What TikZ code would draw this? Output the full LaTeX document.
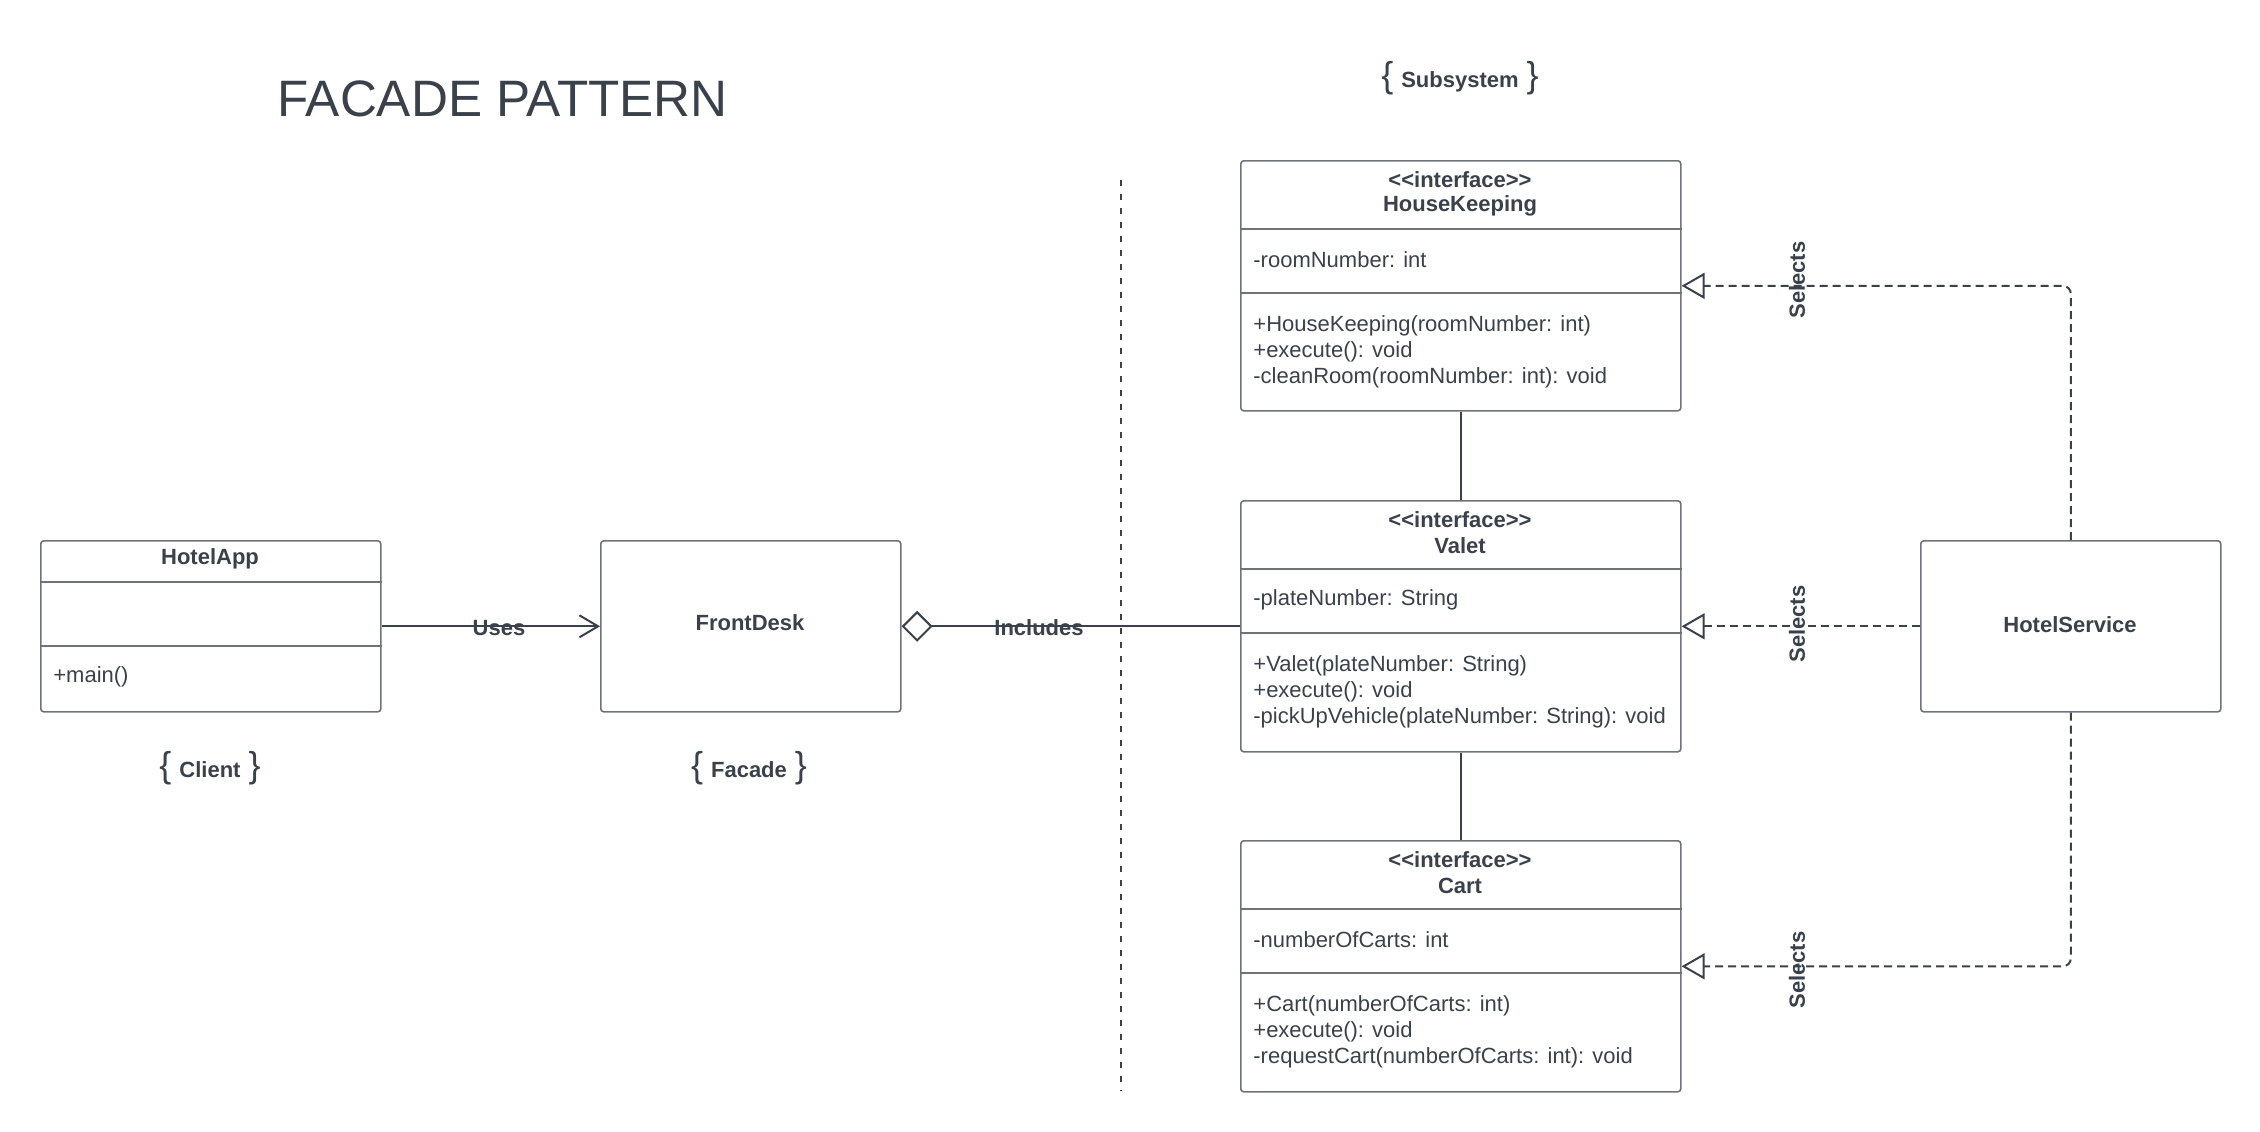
\documentclass[tikz,border=0pt]{standalone}
\usepackage{fontspec}
\setmainfont{Liberation Sans}
\usetikzlibrary{arrows.meta}
\definecolor{ink}{HTML}{3A414A}
\definecolor{boxgray}{HTML}{6E7379}
\newcommand{\bracefont}{\fontsize{18}{18}\selectfont\mdseries}
\newcommand{\bracelabel}[1]{{\bracefont\{}\hspace{4pt}\textbf{#1}\hspace{4pt}{\bracefont\}}}
\tikzset{
  box/.style={draw=boxgray, line width=0.8pt, rounded corners=1.5pt, inner sep=0pt, anchor=north west},
  divline/.style={draw=boxgray, line width=0.8pt},
  conn/.style={draw=ink, line width=1pt},
  selline/.style={conn, dash pattern=on 4pt off 2.5pt, rounded corners=4pt},
  sepline/.style={draw=ink, line width=1pt, dash pattern=on 3pt off 4pt},
  txt/.style={text=ink, font=\fontsize{11}{13}\selectfont, inner sep=0pt},
  boldtxt/.style={text=ink, font=\fontsize{11}{13}\selectfont\bfseries, inner sep=0pt},
  opentri/.style={-{Triangle[open, length=11.5pt, width=13pt, line width=1pt]}},
}
\begin{document}
\begin{tikzpicture}[x=0.5pt,y=-0.5pt]
\useasboundingbox (0,0) rectangle (2260,1131);

% title and stereotype labels
\node[txt, font=\fontsize{25.6}{29}\selectfont, anchor=west] (title) at (277,99) {FACADE PATTERN};
\node[txt] (subsys) at (1460,78) {\bracelabel{Subsystem}};
\node[txt] (clientlbl) at (210,768) {\bracelabel{Client}};
\node[txt] (facadelbl) at (749,768) {\bracelabel{Facade}};

% separator
\coordinate (septop) at (1121,180);
\coordinate (sepbot) at (1121,1091);
\draw[sepline] (septop) -- (sepbot);

% HotelApp
\node[box, minimum width=170pt, minimum height=85.5pt] (ha) at (40,540) {};
\draw[divline] (ha.west |- 0,582) -- (ha.east |- 0,582);
\draw[divline] (ha.west |- 0,646) -- (ha.east |- 0,646);
\node[boldtxt] (hatitle) at (210,559) {HotelApp};
\node[txt, anchor=west] (hamain) at (53,677) {+main()};

% FrontDesk
\node[box, minimum width=150pt, minimum height=85.5pt] (fd) at (600,540) {};
\node[boldtxt] (fdtitle) at (750,623) {FrontDesk};

% HotelService
\node[box, minimum width=150pt, minimum height=85.5pt] (hs) at (1920,540) {};
\node[boldtxt] (hstitle) at (2070,625) {HotelService};

% HouseKeeping
\node[box, minimum width=220pt, minimum height=125pt] (hk) at (1240,160) {};
\draw[divline] (hk.west |- 0,229) -- (hk.east |- 0,229);
\draw[divline] (hk.west |- 0,293) -- (hk.east |- 0,293);
\node[boldtxt] (hkst) at (1460,180) {<{}<interface>{}>};
\node[boldtxt] (hkname) at (1460,206) {HouseKeeping};
\node[txt, anchor=west] (hkattr) at (1253,260) {-roomNumber: int};
\node[txt, anchor=west, align=left] (hkops) at (1253,352) {+HouseKeeping(roomNumber: int)\\+execute(): void\\-cleanRoom(roomNumber: int): void};

% Valet
\node[box, minimum width=220pt, minimum height=125.5pt] (va) at (1240,500) {};
\draw[divline] (va.west |- 0,569) -- (va.east |- 0,569);
\draw[divline] (va.west |- 0,633) -- (va.east |- 0,633);
\node[boldtxt] (vast) at (1460,520) {<{}<interface>{}>};
\node[boldtxt] (vaname) at (1460,546) {Valet};
\node[txt, anchor=west] (vaattr) at (1253,600) {-plateNumber: String};
\node[txt, anchor=west, align=left] (vaops) at (1253,692) {+Valet(plateNumber: String)\\+execute(): void\\-pickUpVehicle(plateNumber: String): void};

% Cart
\node[box, minimum width=220pt, minimum height=125.5pt] (ca) at (1240,840) {};
\draw[divline] (ca.west |- 0,909) -- (ca.east |- 0,909);
\draw[divline] (ca.west |- 0,973) -- (ca.east |- 0,973);
\node[boldtxt] (cast) at (1460,860) {<{}<interface>{}>};
\node[boldtxt] (caname) at (1460,886) {Cart};
\node[txt, anchor=west] (caattr) at (1253,940) {-numberOfCarts: int};
\node[txt, anchor=west, align=left] (caops) at (1253,1032) {+Cart(numberOfCarts: int)\\+execute(): void\\-requestCart(numberOfCarts: int): void};

% connectors
\draw[conn, -{Straight Barb[length=9.3pt, width=11pt, line width=1pt]}] (ha.east) -- (fd.west);
\node[boldtxt] (useslbl) at (499,628) {Uses};

\draw[conn, {Diamond[open, length=15.5pt, width=15.5pt, line width=1pt]}-] (fd.east) -- (va.west);
\node[boldtxt] (inclbl) at (1039,628) {Includes};

\draw[conn] (hk.south) -- (va.north);
\draw[conn] (va.south) -- (ca.north);

\draw[selline, opentri] (hs.north) |- (hk.east);
\draw[selline, opentri] (hs.west) -- (va.east);
\draw[selline, opentri] (hs.south) |- (ca.east);
\node[boldtxt, rotate=90] (sel1) at (1797,280) {Selects};
\node[boldtxt, rotate=90] (sel2) at (1797,624) {Selects};
\node[boldtxt, rotate=90] (sel3) at (1797,970) {Selects};
\end{tikzpicture}
\end{document}
